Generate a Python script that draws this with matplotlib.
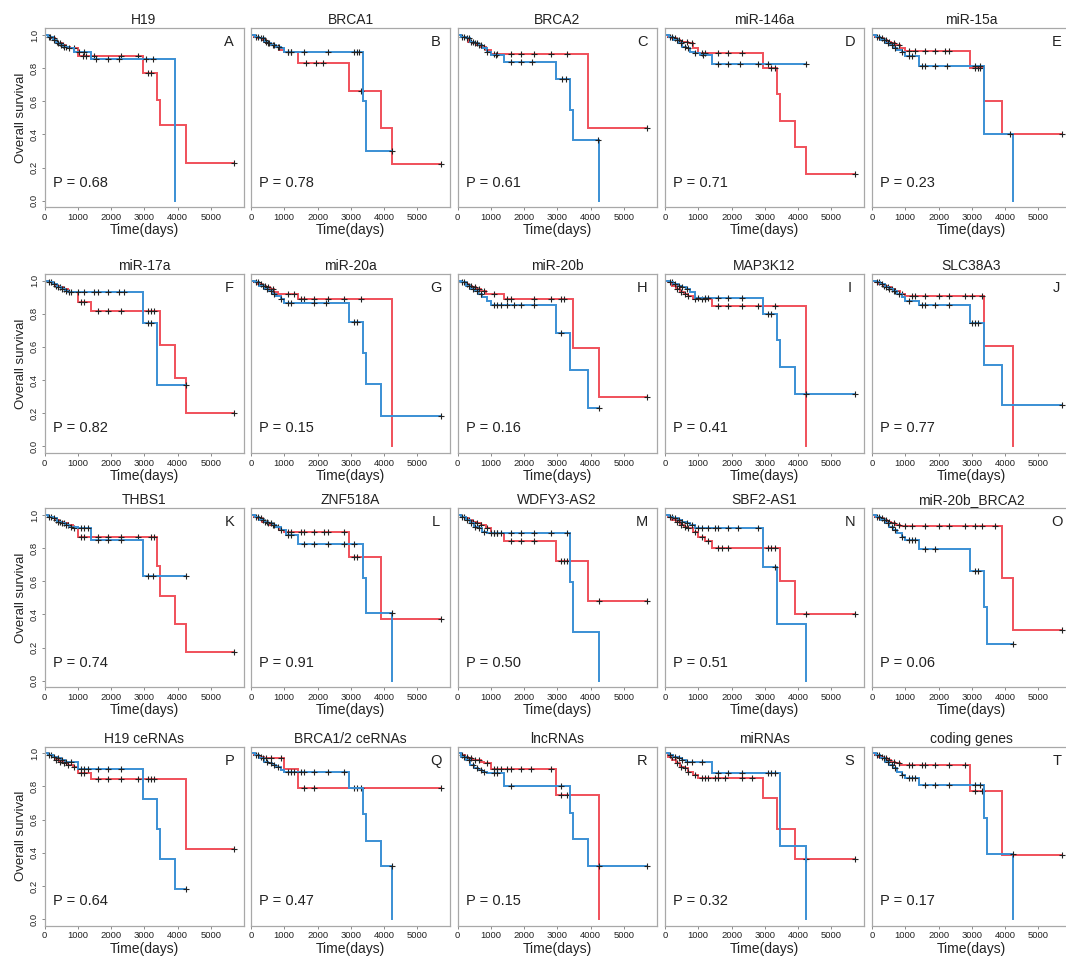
import numpy as np
import matplotlib
matplotlib.use("Agg")
import matplotlib.pyplot as plt

plt.rcParams['font.family'] = ['Liberation Sans', 'DejaVu Sans']

# === DATA (days / survival) ===
titles = ["H19", "BRCA1", "BRCA2", "miR-146a", "miR-15a",
          "miR-17a", "miR-20a", "miR-20b", "MAP3K12", "SLC38A3",
          "THBS1", "ZNF518A", "WDFY3-AS2", "SBF2-AS1", "miR-20b_BRCA2",
          "H19 ceRNAs", "BRCA1/2 ceRNAs", "lncRNAs", "miRNAs", "coding genes"]
letters = list("ABCDEFGHIJKLMNOPQRST")
p_values = ["0.68", "0.78", "0.61", "0.71", "0.23", "0.82", "0.15", "0.16", "0.41", "0.77",
            "0.74", "0.91", "0.50", "0.51", "0.06", "0.64", "0.47", "0.15", "0.32", "0.17"]
x_ticks = [0, 1000, 2000, 3000, 4000, 5000]
y_ticks = [0.0, 0.2, 0.4, 0.6, 0.8, 1.0]

# A  H19
A_red_t = [0, 100, 220, 330, 420, 520, 620, 780, 1000, 2950, 3380, 3470, 4250, 5700]
A_red_s = [1, 0.99, 0.98, 0.96, 0.95, 0.94, 0.93, 0.92, 0.873, 0.77, 0.61, 0.458, 0.227, 0.227]
A_red_c = [130, 280, 380, 470, 560, 650, 900, 1150, 1250, 1500, 2300, 2800, 3100, 3200, 5700]
A_blue_t = [0, 120, 250, 350, 450, 560, 700, 900, 1400, 3920]
A_blue_s = [1, 0.99, 0.97, 0.95, 0.94, 0.93, 0.92, 0.90, 0.853, 0.0]
A_blue_c = [180, 300, 400, 500, 600, 750, 1050, 1200, 1550, 1900, 2250, 3050, 3250]
# B  BRCA1
B_red_t = [0, 100, 220, 330, 450, 560, 700, 850, 1000, 1400, 2950, 3920, 4250, 5700]
B_red_s = [1, 0.99, 0.98, 0.97, 0.95, 0.94, 0.93, 0.91, 0.90, 0.83, 0.663, 0.44, 0.22, 0.22]
B_red_c = [150, 300, 420, 520, 650, 800, 1100, 1200, 1650, 1950, 2150, 3300, 5700]
B_blue_t = [0, 120, 250, 380, 480, 600, 750, 900, 1000, 3380, 3470, 4250]
B_blue_s = [1, 0.99, 0.98, 0.96, 0.95, 0.94, 0.93, 0.92, 0.90, 0.60, 0.30, 0.30]
B_blue_c = [200, 350, 450, 550, 700, 850, 1100, 1200, 1600, 2300, 3100, 3200, 3250, 4250]
# C  BRCA2
C_red_t = [0, 100, 220, 330, 450, 560, 700, 850, 1000, 3920, 5700]
C_red_s = [1, 0.99, 0.98, 0.96, 0.95, 0.94, 0.93, 0.91, 0.884, 0.438, 0.438]
C_red_c = [150, 300, 420, 520, 650, 800, 1100, 1200, 1600, 1900, 2300, 2800, 3300, 5700]
C_blue_t = [0, 120, 250, 380, 500, 620, 750, 900, 1000, 1400, 2950, 3380, 3470, 4250]
C_blue_s = [1, 0.99, 0.98, 0.96, 0.95, 0.94, 0.92, 0.90, 0.88, 0.84, 0.735, 0.55, 0.367, 0.0]
C_blue_c = [200, 350, 480, 600, 700, 900, 1150, 1600, 1900, 2250, 3150, 3250, 4230]
# D  miR-146a
D_red_t = [0, 100, 220, 330, 450, 560, 700, 850, 1000, 2950, 3380, 3470, 3920, 4250, 5700]
D_red_s = [1, 0.99, 0.98, 0.97, 0.96, 0.96, 0.95, 0.92, 0.893, 0.80, 0.645, 0.484, 0.323, 0.163, 0.163]
D_red_c = [150, 300, 420, 520, 650, 800, 1100, 1200, 1600, 1900, 2300, 3200, 3300, 5700]
D_blue_t = [0, 120, 250, 380, 500, 620, 750, 900, 1050, 1400, 4250]
D_blue_s = [1, 0.99, 0.97, 0.95, 0.93, 0.92, 0.90, 0.89, 0.88, 0.825, 0.825]
D_blue_c = [200, 350, 480, 600, 700, 900, 1150, 1600, 1900, 2250, 2800, 3100, 4250]
# E  miR-15a
E_red_t = [0, 100, 220, 330, 450, 560, 700, 850, 1000, 2950, 3380, 3920, 5700]
E_red_s = [1, 0.99, 0.98, 0.97, 0.96, 0.95, 0.94, 0.92, 0.904, 0.80, 0.604, 0.404, 0.404]
E_red_c = [150, 300, 420, 520, 650, 800, 1100, 1300, 1600, 1900, 2200, 2300, 3100, 3200, 3250, 5700]
E_blue_t = [0, 120, 250, 380, 500, 620, 750, 900, 1000, 1400, 3380, 4250]
E_blue_s = [1, 0.99, 0.97, 0.95, 0.94, 0.92, 0.91, 0.90, 0.873, 0.813, 0.404, 0.0]
E_blue_c = [200, 350, 480, 600, 700, 900, 1100, 1200, 1500, 1600, 1900, 2250, 3100, 3250, 4150]
# F  miR-17a
F_red_t = [0, 100, 220, 330, 450, 560, 700, 1000, 1400, 3470, 3920, 4250, 5700]
F_red_s = [1, 0.99, 0.98, 0.97, 0.96, 0.95, 0.93, 0.87, 0.816, 0.614, 0.41, 0.2, 0.2]
F_red_c = [200, 350, 480, 600, 750, 1100, 1200, 1600, 1900, 2300, 3100, 3200, 3300, 5700]
F_blue_t = [0, 120, 250, 380, 500, 620, 700, 2950, 3380, 4250]
F_blue_s = [1, 0.99, 0.98, 0.96, 0.95, 0.94, 0.93, 0.745, 0.372, 0.372]
F_blue_c = [150, 300, 420, 520, 650, 800, 1000, 1200, 1500, 1600, 1900, 2250, 2400, 3100, 3200, 4250]
# G  miR-20a
G_red_t = [0, 100, 220, 330, 450, 560, 700, 800, 1400, 4250]
G_red_s = [1, 0.99, 0.98, 0.97, 0.96, 0.95, 0.93, 0.92, 0.887, 0.0]
G_red_c = [150, 300, 420, 520, 650, 1100, 1300, 1500, 1600, 1900, 2300, 2800, 3300]
G_blue_t = [0, 120, 250, 380, 500, 620, 750, 900, 1000, 2950, 3380, 3470, 3920, 5700]
G_blue_s = [1, 0.99, 0.97, 0.95, 0.94, 0.92, 0.91, 0.89, 0.863, 0.75, 0.564, 0.374, 0.186, 0.186]
G_blue_c = [200, 350, 480, 600, 700, 900, 1100, 1200, 1900, 2250, 3100, 3200, 5700]
# H  miR-20b
H_red_t = [0, 100, 220, 330, 450, 560, 700, 850, 1400, 3470, 4250, 5700]
H_red_s = [1, 0.99, 0.98, 0.97, 0.96, 0.95, 0.94, 0.92, 0.887, 0.594, 0.297, 0.297]
H_red_c = [150, 300, 420, 520, 650, 800, 1100, 1500, 1600, 2300, 2800, 3100, 3200, 5700]
H_blue_t = [0, 120, 250, 380, 500, 620, 750, 900, 1000, 2950, 3380, 3920, 4250]
H_blue_s = [1, 0.99, 0.97, 0.95, 0.94, 0.92, 0.90, 0.88, 0.853, 0.687, 0.459, 0.23, 0.23]
H_blue_c = [200, 350, 480, 600, 700, 1100, 1200, 1300, 1500, 1700, 1900, 2300, 3100, 4250]
# I  MAP3K12
I_red_t = [0, 100, 220, 330, 450, 560, 700, 850, 1000, 1400, 4250]
I_red_s = [1, 0.99, 0.97, 0.95, 0.93, 0.92, 0.91, 0.89, 0.887, 0.847, 0.0]
I_red_c = [200, 350, 480, 600, 700, 900, 1100, 1200, 1600, 1900, 2300, 2800, 3300]
I_blue_t = [0, 120, 250, 380, 500, 620, 750, 900, 2950, 3380, 3470, 3920, 5700]
I_blue_s = [1, 0.99, 0.98, 0.97, 0.96, 0.95, 0.93, 0.897, 0.80, 0.64, 0.479, 0.317, 0.317]
I_blue_c = [150, 300, 420, 520, 650, 1000, 1200, 1300, 1600, 1900, 2300, 3100, 3200, 4250, 5700]
# J  SLC38A3
J_red_t = [0, 100, 220, 330, 450, 560, 700, 850, 1000, 3380, 4250]
J_red_s = [1, 0.99, 0.98, 0.97, 0.96, 0.95, 0.94, 0.92, 0.909, 0.604, 0.0]
J_red_c = [200, 350, 480, 600, 700, 900, 1200, 1300, 1600, 2000, 2300, 2800, 3000, 3300]
J_blue_t = [0, 120, 250, 380, 500, 620, 750, 900, 1000, 1400, 2950, 3380, 3920, 5700]
J_blue_s = [1, 0.99, 0.98, 0.96, 0.95, 0.94, 0.92, 0.90, 0.88, 0.853, 0.747, 0.493, 0.247, 0.247]
J_blue_c = [150, 300, 420, 520, 650, 800, 1100, 1500, 1600, 1900, 2300, 3000, 3100, 3200, 5700]
# K  THBS1
K_red_t = [0, 100, 220, 330, 450, 560, 700, 850, 1000, 3380, 3470, 3920, 4250, 5700]
K_red_s = [1, 0.99, 0.98, 0.97, 0.96, 0.95, 0.94, 0.92, 0.869, 0.693, 0.514, 0.343, 0.173, 0.173]
K_red_c = [200, 350, 480, 600, 700, 900, 1100, 1200, 1600, 1900, 2300, 2800, 3200, 3300, 5700]
K_blue_t = [0, 120, 250, 380, 500, 620, 750, 1000, 1400, 2950, 4250]
K_blue_s = [1, 0.99, 0.98, 0.96, 0.95, 0.94, 0.93, 0.92, 0.85, 0.633, 0.633]
K_blue_c = [150, 300, 420, 520, 650, 800, 1100, 1200, 1300, 1600, 1900, 2300, 3100, 3250, 4250]
# L  ZNF518A
L_red_t = [0, 100, 220, 330, 450, 560, 700, 850, 1000, 2950, 3920, 5700]
L_red_s = [1, 0.99, 0.98, 0.96, 0.95, 0.94, 0.93, 0.91, 0.896, 0.745, 0.373, 0.373]
L_red_c = [150, 300, 420, 520, 650, 800, 1100, 1200, 1500, 1600, 1900, 2200, 2300, 2800, 3100, 3200, 5700]
L_blue_t = [0, 120, 250, 380, 500, 620, 750, 900, 1050, 1400, 3380, 3470, 4250]
L_blue_s = [1, 0.99, 0.97, 0.96, 0.95, 0.94, 0.93, 0.91, 0.88, 0.825, 0.619, 0.411, 0.0]
L_blue_c = [200, 350, 480, 600, 700, 900, 1100, 1200, 1600, 1900, 2300, 2800, 3100, 4230]
# M  WDFY3-AS2
M_red_t = [0, 100, 220, 330, 450, 560, 700, 850, 1000, 1400, 2950, 3920, 5700]
M_red_s = [1, 0.99, 0.98, 0.97, 0.96, 0.95, 0.94, 0.92, 0.893, 0.843, 0.723, 0.484, 0.484]
M_red_c = [200, 350, 480, 600, 700, 900, 1100, 1200, 1600, 1900, 2300, 3100, 3200, 3300, 4250, 5700]
M_blue_t = [0, 120, 250, 380, 500, 620, 750, 900, 3380, 3470, 4250]
M_blue_s = [1, 0.99, 0.97, 0.95, 0.93, 0.92, 0.90, 0.893, 0.598, 0.297, 0.0]
M_blue_c = [150, 300, 420, 520, 650, 800, 1000, 1100, 1200, 1300, 1600, 1900, 2300, 2800, 3300]
# N  SBF2-AS1
N_red_t = [0, 100, 220, 330, 450, 560, 700, 850, 1000, 1200, 1400, 3470, 3920, 5700]
N_red_s = [1, 0.99, 0.97, 0.96, 0.94, 0.93, 0.92, 0.90, 0.87, 0.845, 0.803, 0.604, 0.404, 0.404]
N_red_c = [200, 350, 480, 600, 700, 900, 1100, 1300, 1600, 1700, 1900, 3100, 3200, 3300, 4250, 5700]
N_blue_t = [0, 120, 250, 380, 500, 620, 750, 900, 2950, 3380, 4250]
N_blue_s = [1, 0.99, 0.98, 0.97, 0.96, 0.95, 0.94, 0.92, 0.689, 0.343, 0.0]
N_blue_c = [150, 300, 420, 520, 650, 800, 1000, 1100, 1300, 1500, 1600, 1900, 2200, 2800, 3300]
# O  miR-20b_BRCA2
O_red_t = [0, 100, 220, 330, 450, 560, 700, 850, 3920, 4250, 5700]
O_red_s = [1, 0.99, 0.98, 0.97, 0.96, 0.95, 0.94, 0.936, 0.618, 0.307, 0.307]
O_red_c = [150, 300, 420, 520, 650, 800, 1000, 1200, 1600, 2000, 2300, 2800, 3100, 3300, 3700, 5700]
O_blue_t = [0, 120, 250, 380, 500, 620, 750, 900, 1000, 1400, 2950, 3380, 3470, 4250]
O_blue_s = [1, 0.99, 0.97, 0.95, 0.93, 0.91, 0.89, 0.87, 0.85, 0.793, 0.665, 0.444, 0.223, 0.223]
O_blue_c = [200, 350, 480, 600, 700, 900, 1100, 1200, 1300, 1600, 1900, 3100, 3200, 4250]
# P  H19 ceRNAs
P_red_t = [0, 100, 220, 330, 450, 560, 700, 850, 1000, 1400, 4250, 5700]
P_red_s = [1, 0.99, 0.98, 0.96, 0.95, 0.94, 0.93, 0.92, 0.879, 0.845, 0.425, 0.425]
P_red_c = [200, 350, 480, 600, 700, 900, 1100, 1200, 1600, 1900, 2300, 2800, 3100, 3200, 3300, 5700]
P_blue_t = [0, 120, 250, 380, 500, 620, 750, 1000, 2950, 3380, 3470, 3920, 4250]
P_blue_s = [1, 0.99, 0.98, 0.97, 0.96, 0.95, 0.95, 0.903, 0.722, 0.542, 0.361, 0.179, 0.179]
P_blue_c = [150, 300, 420, 520, 650, 800, 1100, 1200, 1300, 1600, 1900, 2300, 4250]
# Q  BRCA1/2 ceRNAs
Q_red_t = [0, 100, 250, 400, 1000, 1400, 5700]
Q_red_s = [1, 0.99, 0.98, 0.97, 0.903, 0.792, 0.792]
Q_red_c = [150, 300, 450, 600, 900, 1600, 1900, 3100, 3200, 3300, 5700]
Q_blue_t = [0, 120, 250, 380, 500, 620, 750, 900, 1000, 2950, 3380, 3470, 3920, 4250]
Q_blue_s = [1, 0.99, 0.97, 0.95, 0.94, 0.93, 0.92, 0.90, 0.885, 0.792, 0.631, 0.472, 0.319, 0.0]
Q_blue_c = [200, 350, 480, 600, 700, 800, 1100, 1200, 1300, 1500, 1600, 1900, 2300, 2800, 4230]
# R  lncRNAs
R_red_t = [0, 100, 220, 330, 450, 560, 700, 800, 1000, 2950, 4250]
R_red_s = [1, 0.99, 0.98, 0.97, 0.96, 0.96, 0.95, 0.94, 0.903, 0.748, 0.0]
R_red_c = [150, 300, 420, 520, 650, 900, 1100, 1200, 1300, 1500, 1600, 1900, 2200, 2800, 3100, 3300]
R_blue_t = [0, 120, 250, 380, 500, 620, 750, 900, 1400, 3380, 3470, 3920, 5700]
R_blue_s = [1, 0.98, 0.96, 0.93, 0.91, 0.90, 0.89, 0.883, 0.804, 0.641, 0.486, 0.32, 0.32]
R_blue_c = [200, 350, 480, 600, 700, 800, 1100, 1200, 1600, 3100, 4250, 5700]
# S  miRNAs
S_red_t = [0, 100, 220, 330, 450, 560, 700, 850, 1000, 2950, 3380, 3920, 5700]
S_red_s = [1, 0.98, 0.96, 0.94, 0.92, 0.91, 0.89, 0.87, 0.849, 0.728, 0.546, 0.365, 0.365]
S_red_c = [200, 350, 480, 600, 700, 900, 1100, 1200, 1300, 1500, 1600, 1800, 2300, 2600, 4250, 5700]
S_blue_t = [0, 120, 250, 380, 500, 620, 1400, 3470, 4250]
S_blue_s = [1, 0.99, 0.98, 0.97, 0.96, 0.95, 0.879, 0.442, 0.0]
S_blue_c = [150, 300, 420, 520, 650, 800, 1100, 1600, 1900, 2300, 3100, 3200, 3300]
# T  coding genes
T_red_t = [0, 100, 220, 330, 450, 560, 700, 850, 1000, 2950, 3920, 5700]
T_red_s = [1, 0.99, 0.98, 0.97, 0.96, 0.95, 0.94, 0.93, 0.929, 0.772, 0.385, 0.385]
T_red_c = [150, 300, 420, 520, 650, 800, 1100, 1200, 1500, 1600, 1900, 2300, 2800, 3100, 3300, 5700]
T_blue_t = [0, 120, 250, 380, 500, 620, 750, 900, 1000, 1400, 3380, 3470, 4250]
T_blue_s = [1, 0.99, 0.97, 0.95, 0.93, 0.91, 0.89, 0.87, 0.849, 0.808, 0.607, 0.395, 0.0]
T_blue_c = [200, 350, 480, 600, 700, 900, 1100, 1200, 1300, 1600, 1900, 2300, 3100, 3250, 4230]

panels = [
    (A_red_t, A_red_s, A_red_c, A_blue_t, A_blue_s, A_blue_c),
    (B_red_t, B_red_s, B_red_c, B_blue_t, B_blue_s, B_blue_c),
    (C_red_t, C_red_s, C_red_c, C_blue_t, C_blue_s, C_blue_c),
    (D_red_t, D_red_s, D_red_c, D_blue_t, D_blue_s, D_blue_c),
    (E_red_t, E_red_s, E_red_c, E_blue_t, E_blue_s, E_blue_c),
    (F_red_t, F_red_s, F_red_c, F_blue_t, F_blue_s, F_blue_c),
    (G_red_t, G_red_s, G_red_c, G_blue_t, G_blue_s, G_blue_c),
    (H_red_t, H_red_s, H_red_c, H_blue_t, H_blue_s, H_blue_c),
    (I_red_t, I_red_s, I_red_c, I_blue_t, I_blue_s, I_blue_c),
    (J_red_t, J_red_s, J_red_c, J_blue_t, J_blue_s, J_blue_c),
    (K_red_t, K_red_s, K_red_c, K_blue_t, K_blue_s, K_blue_c),
    (L_red_t, L_red_s, L_red_c, L_blue_t, L_blue_s, L_blue_c),
    (M_red_t, M_red_s, M_red_c, M_blue_t, M_blue_s, M_blue_c),
    (N_red_t, N_red_s, N_red_c, N_blue_t, N_blue_s, N_blue_c),
    (O_red_t, O_red_s, O_red_c, O_blue_t, O_blue_s, O_blue_c),
    (P_red_t, P_red_s, P_red_c, P_blue_t, P_blue_s, P_blue_c),
    (Q_red_t, Q_red_s, Q_red_c, Q_blue_t, Q_blue_s, Q_blue_c),
    (R_red_t, R_red_s, R_red_c, R_blue_t, R_blue_s, R_blue_c),
    (S_red_t, S_red_s, S_red_c, S_blue_t, S_blue_s, S_blue_c),
    (T_red_t, T_red_s, T_red_c, T_blue_t, T_blue_s, T_blue_c),
]

# === STYLE / LAYOUT ===
W, H = 1066, 960
RED = '#f0505a'
BLUE = '#3a8fd4'
BOX = '#a8a8a8'
col_left = [44.5, 251, 457.5, 665, 872]   # px
row_top = [28.4, 274, 508.4, 746.7]       # px
box_w, box_h = 199, 179


def draw_km(ax, t, s, cens, color):
    t = np.asarray(t, float)
    s = np.asarray(s, float)
    ax.step(t, s, where='post', color=color, lw=1.4, solid_joinstyle='miter')
    c = np.asarray(cens, float)
    idx = np.searchsorted(t, c, side='right') - 1
    ax.plot(c, s[idx], ls='none', marker='+', ms=4, mew=0.8, color='#222222')


fig = plt.figure(figsize=(W / 100, H / 100), dpi=100)

for i, (rt, rs, rc, bt, bs, bc) in enumerate(panels):
    r, c = divmod(i, 5)
    left = col_left[c] / W
    bottom = 1 - (row_top[r] + box_h) / H
    ax = fig.add_axes([left, bottom, box_w / W, box_h / H])

    draw_km(ax, rt, rs, rc, RED)
    draw_km(ax, bt, bs, bc, BLUE)

    ax.set_xlim(0, 5980)
    ax.set_ylim(-0.04, 1.04)
    ax.set_xticks(x_ticks)
    ax.set_xticklabels([str(v) for v in x_ticks], fontsize=6.8)
    for sp in ax.spines.values():
        sp.set_color(BOX)
        sp.set_linewidth(0.9)
    ax.tick_params(axis='both', direction='out', length=2.5, width=0.6,
                   color='#777777', pad=1.5, labelcolor='#222222')
    if c == 0:
        ax.set_yticks(y_ticks)
        ax.set_yticklabels(['%.1f' % v for v in y_ticks], fontsize=6.8,
                           rotation=90, va='center')
        ax.set_ylabel('Overall survival', fontsize=9.5, labelpad=2, color='#222222')
    else:
        ax.set_yticks([])

    ax.set_xlabel('Time(days)', fontsize=10, labelpad=1, color='#222222')
    ax.set_title(titles[i], fontsize=10, pad=3, color='#222222')
    ax.text(5550, 0.955, letters[i], fontsize=10.5, ha='center', va='center',
            color='#222222')
    ax.text(250, 0.11, 'P = ' + p_values[i], fontsize=10.5, ha='left',
            va='center', color='#222222')

fig.savefig('out.png', dpi=100)
